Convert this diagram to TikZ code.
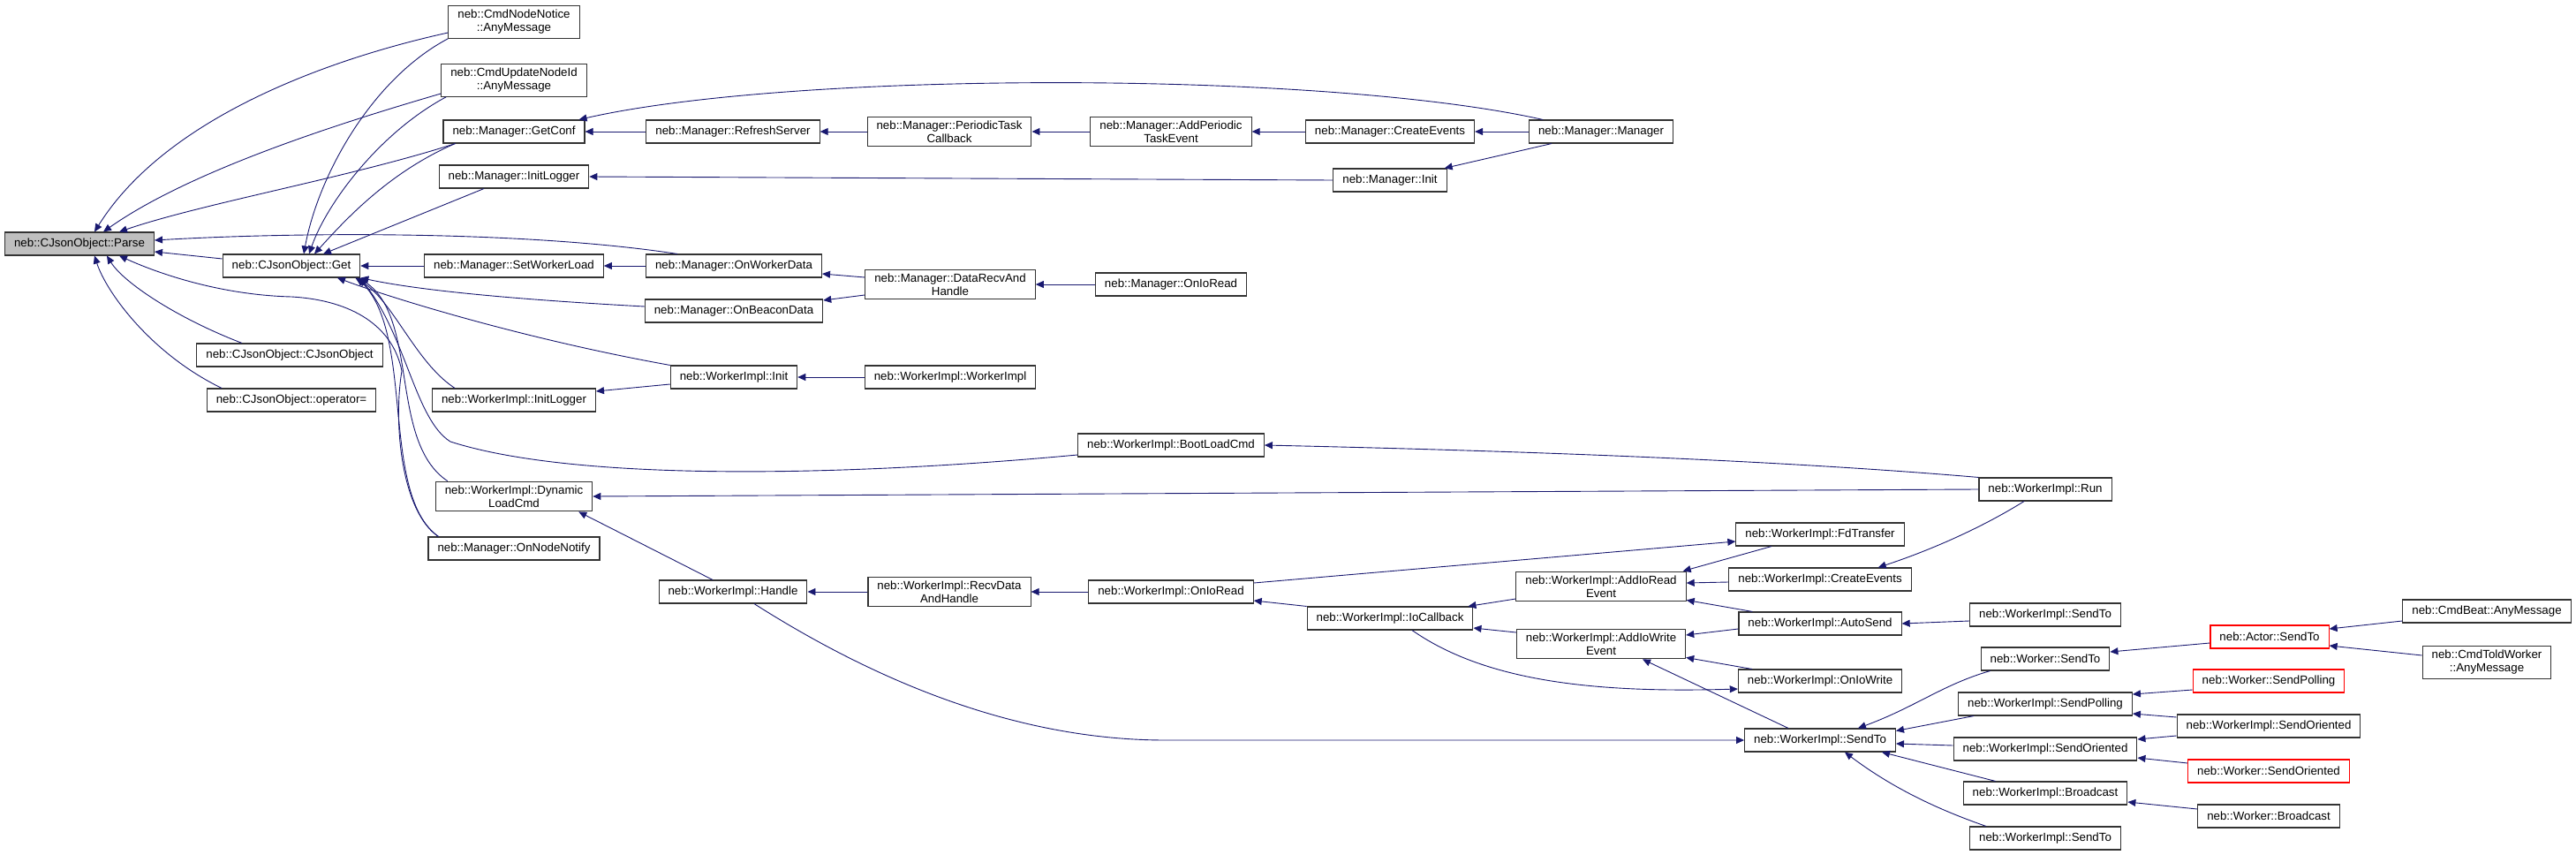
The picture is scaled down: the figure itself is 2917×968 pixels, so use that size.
\documentclass[tikz,border=0pt]{standalone}
\usepackage{fontspec}
\setmainfont{Liberation Sans}
\usetikzlibrary{arrows.meta}
\definecolor{edgeblue}{HTML}{191970}
\definecolor{rootgrey}{HTML}{BFBFBF}
\definecolor{boxline}{HTML}{333333}
\begin{document}
\begin{tikzpicture}[x=1pt, y=-1pt, >={Triangle[length=9pt,width=8pt]},
  fn/.style={draw=boxline, line width=1.1pt, fill=white, align=center,
    inner xsep=10.5pt, inner ysep=4.5pt, minimum height=26pt,
    font=\fontsize{13.3}{15}\selectfont},
  fnroot/.style={fn, fill=rootgrey},
  fnred/.style={fn, draw=red},
  callarrow/.style={->, draw=edgeblue, fill=none, line width=0.9pt}]
  \useasboundingbox (0,0) rectangle (2917,968);
  % column 0 and 1
  \node[fnroot] (parse) at (90,276) {neb::CJsonObject::Parse};
  \node[fn] (get) at (330,301) {neb::CJsonObject::Get};
  \node[fn] (ctor) at (328,402) {neb::CJsonObject::CJsonObject};
  \node[fn] (assign) at (330,453) {neb::CJsonObject::operator=};
  % column 2
  \node[fn] (nnotice) at (582,25) {neb::CmdNodeNotice\\::AnyMessage};
  \node[fn] (nupdate) at (582,91) {neb::CmdUpdateNodeId\\::AnyMessage};
  \node[fn] (getconf) at (582,149) {neb::Manager::GetConf};
  \node[fn] (minitlog) at (582,200) {neb::Manager::InitLogger};
  \node[fn] (setload) at (582,301) {neb::Manager::SetWorkerLoad};
  \node[fn] (winitlog) at (582,453) {neb::WorkerImpl::InitLogger};
  \node[fn] (dyncmd) at (582,562) {neb::WorkerImpl::Dynamic\\LoadCmd};
  \node[fn] (nodenotify) at (582,621) {neb::Manager::OnNodeNotify};
  % column 3
  \node[fn] (refresh) at (830,149) {neb::Manager::RefreshServer};
  \node[fn] (onworker) at (831,301) {neb::Manager::OnWorkerData};
  \node[fn] (onbeacon) at (831,352) {neb::Manager::OnBeaconData};
  \node[fn] (winit) at (831,427) {neb::WorkerImpl::Init};
  \node[fn] (handle) at (830,670) {neb::WorkerImpl::Handle};
  % column 4
  \node[fn] (periodic) at (1075,149) {neb::Manager::PeriodicTask\\Callback};
  \node[fn] (datarecv) at (1076,322) {neb::Manager::DataRecvAnd\\Handle};
  \node[fn] (wimpl) at (1076,427) {neb::WorkerImpl::WorkerImpl};
  \node[fn] (recvdata) at (1075,670) {neb::WorkerImpl::RecvData\\AndHandle};
  % column 5
  \node[fn] (addperiodic) at (1326,149) {neb::Manager::AddPeriodic\\TaskEvent};
  \node[fn] (mioread) at (1326,322) {neb::Manager::OnIoRead};
  \node[fn] (bootload) at (1326,504) {neb::WorkerImpl::BootLoadCmd};
  \node[fn] (wioread) at (1326,670) {neb::WorkerImpl::OnIoRead};
  % column 6
  \node[fn] (mcreate) at (1574,149) {neb::Manager::CreateEvents};
  \node[fn] (minit) at (1574,204) {neb::Manager::Init};
  \node[fn] (iocb) at (1574,700) {neb::WorkerImpl::IoCallback};
  % column 7
  \node[fn] (mmanager) at (1813,149) {neb::Manager::Manager};
  \node[fn] (addread) at (1813,664) {neb::WorkerImpl::AddIoRead\\Event};
  \node[fn] (addwrite) at (1813,729) {neb::WorkerImpl::AddIoWrite\\Event};
  % column 8
  \node[fn] (fdtrans) at (2061,605) {neb::WorkerImpl::FdTransfer};
  \node[fn] (wcreate) at (2061,656) {neb::WorkerImpl::CreateEvents};
  \node[fn] (autosend) at (2061,706) {neb::WorkerImpl::AutoSend};
  \node[fn] (oniowrite) at (2061,771) {neb::WorkerImpl::OnIoWrite};
  \node[fn] (sendto) at (2061,838) {neb::WorkerImpl::SendTo};
  % column 9
  \node[fn] (run) at (2316,554) {neb::WorkerImpl::Run};
  \node[fn] (sendtoA) at (2316,696) {neb::WorkerImpl::SendTo};
  \node[fn] (wsendto) at (2316,746) {neb::Worker::SendTo};
  \node[fn] (spoll) at (2316,797) {neb::WorkerImpl::SendPolling};
  \node[fn] (sorientL) at (2316,848) {neb::WorkerImpl::SendOriented};
  \node[fn] (bcast) at (2316,898) {neb::WorkerImpl::Broadcast};
  \node[fn] (sendtoB) at (2316,949) {neb::WorkerImpl::SendTo};
  % column 10 and 11
  \node[fnred] (actor) at (2570,721) {neb::Actor::SendTo};
  \node[fnred] (wpoll) at (2569,771) {neb::Worker::SendPolling};
  \node[fn] (sorientR) at (2569,822) {neb::WorkerImpl::SendOriented};
  \node[fnred] (worient) at (2569,873) {neb::Worker::SendOriented};
  \node[fn] (wbcast) at (2569,924) {neb::Worker::Broadcast};
  \node[fn] (beat) at (2816,692) {neb::CmdBeat::AnyMessage};
  \node[fn] (toid) at (2816,750) {neb::CmdToldWorker\\::AnyMessage};
  % callers of Parse
  \draw[callarrow] ([yshift=-12pt]nnotice.west) .. controls (380,65) and (190,130) .. ([xshift=17pt]parse.north);
  \draw[callarrow] ([yshift=-15pt]nupdate.west) .. controls (400,135) and (220,190) .. ([xshift=27pt]parse.north);
  \draw[callarrow] ([xshift=14pt]getconf.south west) .. controls (400,200) and (230,230) .. ([xshift=45pt]parse.north);
  \draw[callarrow] ([yshift=8pt]get.west) -- ([yshift=-9pt]parse.east);
  \draw[callarrow] ([xshift=-54pt]ctor.north) .. controls (200,360) and (140,320) .. ([xshift=31pt]parse.south);
  \draw[callarrow] ([xshift=-79pt]assign.north) .. controls (170,400) and (120,330) .. ([xshift=17pt]parse.south);
  \draw[callarrow] ([xshift=36pt]onworker.north west) .. controls (600,262) and (350,262) .. ([yshift=4pt]parse.east);
  \draw[callarrow] ([xshift=12pt]nodenotify.north west) .. controls (455,580) and (445,480) .. (455,420)
    .. controls (445,370) and (400,340) .. (330,336) .. controls (250,334) and (180,310) .. ([xshift=45pt]parse.south);
  % callers of Get
  \draw[callarrow] (nnotice.south west) .. controls (420,90) and (360,200) .. ([xshift=14pt]get.north);
  \draw[callarrow] ([xshift=6pt]nupdate.south west) .. controls (430,150) and (370,230) .. ([xshift=20pt]get.north);
  \draw[callarrow] ([xshift=14pt]getconf.south west) .. controls (440,195) and (390,250) .. ([xshift=26pt]get.north);
  \draw[callarrow] ([xshift=-34pt]minitlog.south) -- ([xshift=36pt]get.north);
  \draw[callarrow] (setload.west) -- (get.east);
  \draw[callarrow] ([yshift=5pt]onbeacon.west) .. controls (600,340) and (480,330) .. (get.south east);
  \draw[callarrow] (winit.north west) .. controls (600,385) and (450,340) .. ([xshift=52pt]get.south);
  \draw[callarrow] ([xshift=26pt]winitlog.north west) .. controls (470,410) and (445,340) .. ([xshift=-6pt]get.south east);
  \draw[callarrow] ([xshift=14pt]dyncmd.north west) .. controls (440,500) and (475,360) .. ([xshift=-2pt]get.south east);
  \draw[callarrow] ([xshift=12pt]nodenotify.north west) .. controls (430,560) and (470,380) .. ([xshift=-4pt]get.south east);
  \draw[callarrow] ([yshift=-11pt]bootload.west) .. controls (950,540) and (650,545) .. (510,500)
    .. controls (470,475) and (460,380) .. ([xshift=-1pt]get.south east);
  % manager side
  \draw[callarrow] (onworker.west) -- (setload.east);
  \draw[callarrow] (refresh.west) -- (getconf.east);
  \draw[callarrow] ([xshift=-66pt]mmanager.north) .. controls (1500,80) and (900,80) .. ([xshift=-7pt]getconf.north east);
  \draw[callarrow] (periodic.west) -- (refresh.east);
  \draw[callarrow] (addperiodic.west) -- (periodic.east);
  \draw[callarrow] (mcreate.west) -- (addperiodic.east);
  \draw[callarrow] (mmanager.west) -- (mcreate.east);
  \draw[callarrow] ([xshift=-56pt]mmanager.south) -- ([xshift=-3pt]minit.north east);
  \draw[callarrow] (minit.west) -- (minitlog.east);
  \draw[callarrow] ([yshift=8pt]datarecv.west) -- ([yshift=-9pt]onworker.east);
  \draw[callarrow] ([yshift=-12pt]datarecv.west) -- ([yshift=12pt]onbeacon.east);
  \draw[callarrow] (mioread.west) -- (datarecv.east);
  \draw[callarrow] ([yshift=-8pt]winit.west) -- ([yshift=10pt]winitlog.east);
  \draw[callarrow] (wimpl.west) -- (winit.east);
  % worker side
  \draw[callarrow] (run.north west) .. controls (2000,520) and (1700,510) .. (bootload.east);
  \draw[callarrow] (run.west) -- (dyncmd.east);
  \draw[callarrow] ([xshift=-23pt]handle.north) -- ([xshift=-16pt]dyncmd.south east);
  \draw[callarrow] (recvdata.west) -- (handle.east);
  \draw[callarrow] (wioread.west) -- (recvdata.east);
  \draw[callarrow] (iocb.north west) -- ([yshift=-10pt]wioread.east);
  \draw[callarrow] ([yshift=10pt]wioread.east) -- ([yshift=-8pt]fdtrans.west);
  \draw[callarrow] ([yshift=-14pt]addread.west) -- ([xshift=-6pt]iocb.north east);
  \draw[callarrow] ([yshift=13pt]addwrite.west) -- ([yshift=-11pt]iocb.east);
  \draw[callarrow] ([xshift=25pt]iocb.south) .. controls (1680,770) and (1800,785) .. ([yshift=-9pt]oniowrite.west);
  \draw[callarrow] ([xshift=-55pt]fdtrans.south) -- ([xshift=-4pt]addread.north east);
  \draw[callarrow] ([yshift=-3pt]wcreate.west) -- ([yshift=4pt]addread.east);
  \draw[callarrow] ([xshift=16pt]autosend.north west) -- ([yshift=2pt]addread.south east);
  \draw[callarrow] ([yshift=-6pt]autosend.west) -- ([yshift=10pt]addwrite.east);
  \draw[callarrow] ([xshift=16pt]oniowrite.north west) -- ([yshift=2pt]addwrite.south east);
  \draw[callarrow] ([xshift=-36pt]sendto.north) -- ([xshift=47pt]addwrite.south);
  \draw[callarrow] ([xshift=24pt]handle.south) .. controls (990,770) and (1150,838) .. (1320,838) -- (sendto.west);
  \draw[callarrow] ([xshift=-24pt]run.south) .. controls (2240,600) and (2180,625) .. ([xshift=-38pt]wcreate.north east);
  \draw[callarrow] ([yshift=-7pt]sendtoA.west) -- (autosend.east);
  \draw[callarrow] ([xshift=11pt]wsendto.south west) .. controls (2200,775) and (2170,800) .. ([xshift=-43pt]sendto.north east);
  \draw[callarrow] ([xshift=18pt]spoll.south west) -- ([yshift=-3pt]sendto.north east);
  \draw[callarrow] ([yshift=4pt]sorientL.west) -- ([yshift=-4pt]sendto.east);
  \draw[callarrow] ([xshift=37pt]bcast.north west) -- ([xshift=-16pt]sendto.south east);
  \draw[callarrow] ([xshift=19pt]sendtoB.north west) .. controls (2190,915) and (2140,890) .. ([xshift=-58pt]sendto.south east);
  \draw[callarrow] ([yshift=-7pt]actor.west) -- ([yshift=8pt]wsendto.east);
  \draw[callarrow] ([yshift=-11pt]beat.west) -- ([yshift=9pt]actor.east);
  \draw[callarrow] ([yshift=8pt]toid.west) -- ([yshift=-10pt]actor.east);
  \draw[callarrow] ([yshift=-10pt]wpoll.west) -- ([yshift=11pt]spoll.east);
  \draw[callarrow] ([yshift=10pt]sorientR.west) -- ([yshift=-11pt]spoll.east);
  \draw[callarrow] ([yshift=-11pt]sorientR.west) -- ([yshift=11pt]sorientL.east);
  \draw[callarrow] ([yshift=9pt]worient.west) -- ([yshift=-10pt]sorientL.east);
  \draw[callarrow] ([yshift=8pt]wbcast.west) -- ([yshift=-10pt]bcast.east);
\end{tikzpicture}
\end{document}
